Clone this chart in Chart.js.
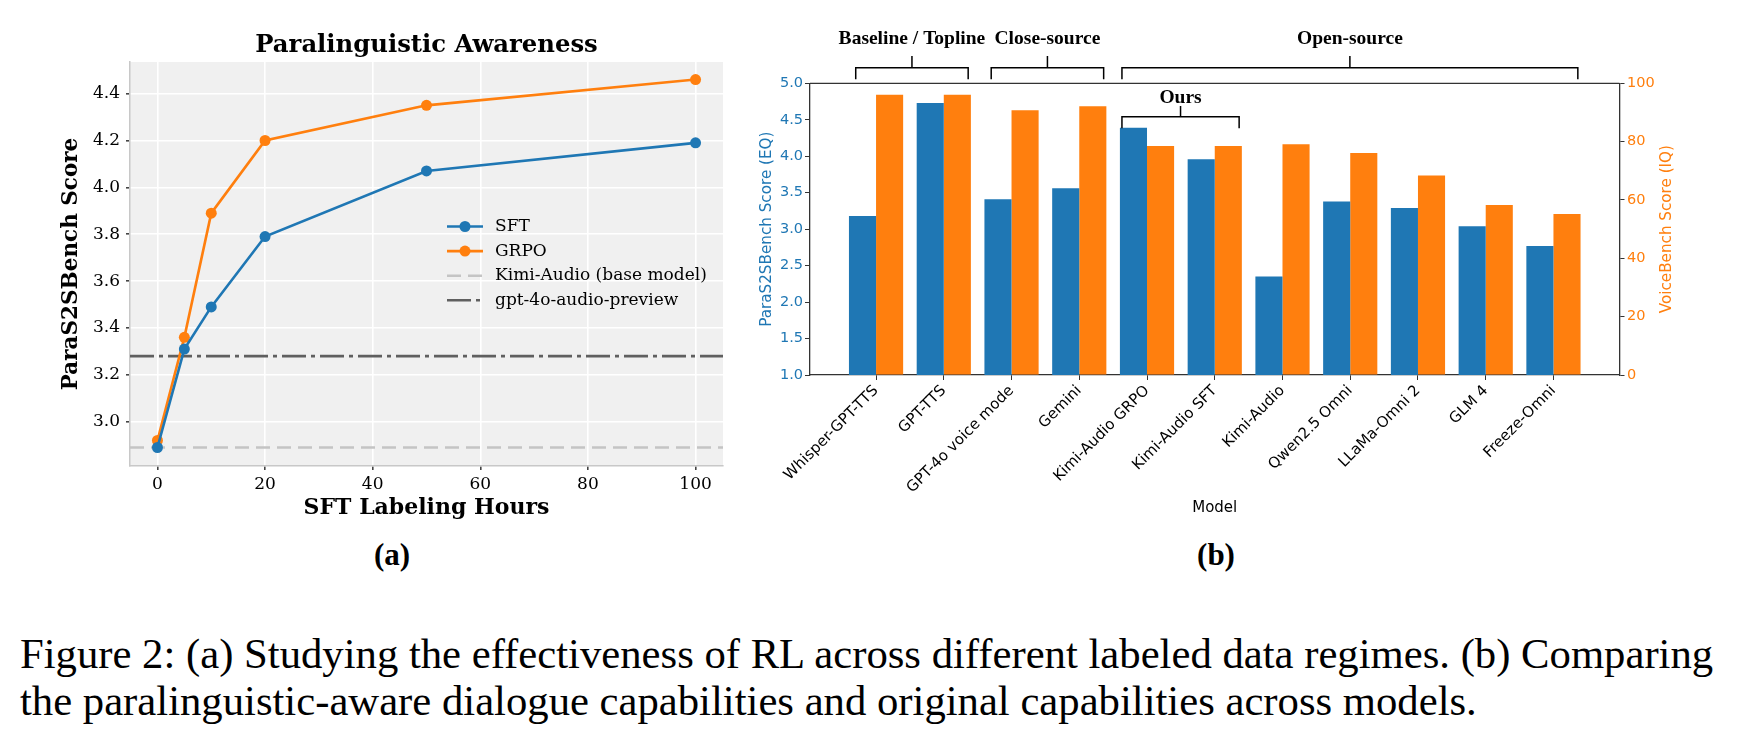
<!DOCTYPE html>
<html>
<head>
<meta charset="utf-8">
<script src="https://cdn.jsdelivr.net/npm/chart.js@4.4.1/dist/chart.umd.min.js"></script>
<style>
  body { margin: 0; background: #fff; width: 1746px; height: 738px; position: relative; overflow: hidden; }
  canvas { position: absolute; }
  #chartA { left: 0; top: 0; }
  #chartB { left: 680px; top: 0; }
  .panel { position: absolute; font-family: "Liberation Serif", serif; font-weight: bold; font-size: 31px; transform: translate(-50%, -50%); }
  #caption { position: absolute; left: 20px; top: 630px; font-family: "Liberation Serif", serif; font-size: 42.7px; line-height: 47px; white-space: nowrap; color: #000; }
</style>
</head>
<body>
<canvas id="chartA" width="740" height="530"></canvas>
<canvas id="chartB" width="1066" height="530"></canvas>
<div class="panel" style="left:392px; top:555px">(a)</div>
<div class="panel" style="left:1216px; top:555px">(b)</div>
<div id="caption">Figure 2: (a) Studying the effectiveness of RL across different labeled data regimes. (b) Comparing<br>the paralinguistic-aware dialogue capabilities and original capabilities across models.</div>
<script>
// ---- (a) Paralinguistic Awareness ----
const hours = [0, 5, 10, 20, 50, 100];
const sftScores = [2.89, 3.31, 3.49, 3.79, 4.07, 4.19];
const grpoScores = [2.92, 3.36, 3.89, 4.20, 4.35, 4.46];
const kimiBase = 2.89;
const gpt4oAudio = 3.28;

// ---- (b) EQ / IQ per model ----
const models = ["Whisper-GPT-TTS", "GPT-TTS", "GPT-4o voice mode", "Gemini", "Kimi-Audio GRPO",
  "Kimi-Audio SFT", "Kimi-Audio", "Qwen2.5 Omni", "LLaMa-Omni 2", "GLM 4", "Freeze-Omni"];
const eqScores = [3.18, 4.73, 3.41, 3.56, 4.39, 3.96, 2.35, 3.38, 3.29, 3.04, 2.77];
const iqScores = [96.1, 96.1, 90.8, 92.1, 78.5, 78.5, 79.1, 76.1, 68.4, 58.3, 55.2];
// group label, first model index, last model index
const groups = [["Baseline / Topline", 0, 1], ["Close-source", 2, 3], ["Open-source", 4, 10]];
const oursGroup = ["Ours", 4, 5];

const BLUE = '#1f77b4';
const ORANGE = '#ff7f0e';

// x range of panel (a), used to stretch the reference lines
const xMinA = -5.1, xMaxA = 105.1;

const serif = 'DejaVu Serif';
const sans = 'DejaVu Sans';

// grey plot background for panel (a)
const bgPlugin = {
  id: 'bg',
  beforeDraw(chart) {
    const {ctx, chartArea: a} = chart;
    ctx.save();
    ctx.fillStyle = '#f0f0f0';
    ctx.fillRect(a.left, a.top, a.right - a.left, a.bottom - a.top);
    ctx.restore();
  }
};

// title + legend for panel (a)
const decoAPlugin = {
  id: 'decoA',
  afterDraw(chart) {
    const {ctx, chartArea: a} = chart;
    ctx.save();
    ctx.fillStyle = '#000';
    ctx.textAlign = 'center';
    ctx.textBaseline = 'middle';
    ctx.font = 'bold 24.3px "' + serif + '"';
    ctx.fillText('Paralinguistic Awareness', (a.left + a.right) / 2, 46);

    // legend
    ctx.font = '17px "' + serif + '"';
    ctx.textAlign = 'left';
    chart.data.datasets.forEach((ds, i) => {
      const y = 226.5 + i * 24.6;
      ctx.strokeStyle = ds.borderColor;
      ctx.lineWidth = ds.borderWidth;
      ctx.setLineDash(ds.borderDash || []);
      ctx.beginPath();
      ctx.moveTo(447, y);
      ctx.lineTo(483, y);
      ctx.stroke();
      ctx.setLineDash([]);
      if (ds.pointRadius > 0) {
        ctx.fillStyle = ds.borderColor;
        ctx.beginPath();
        ctx.arc(465, y, ds.pointRadius, 0, Math.PI * 2);
        ctx.fill();
      }
      ctx.fillStyle = '#000';
      ctx.fillText(ds.label, 495, y);
    });
    ctx.restore();
  }
};

new Chart(document.getElementById('chartA'), {
  type: 'line',
  data: {
    datasets: [
      { label: 'SFT', data: hours.map((h, i) => ({x: h, y: sftScores[i]})),
        borderColor: BLUE, backgroundColor: BLUE, borderWidth: 2.6, pointRadius: 5.5, pointBorderWidth: 0 },
      { label: 'GRPO', data: hours.map((h, i) => ({x: h, y: grpoScores[i]})),
        borderColor: ORANGE, backgroundColor: ORANGE, borderWidth: 2.6, pointRadius: 5.5, pointBorderWidth: 0 },
      { label: 'Kimi-Audio (base model)', data: [{x: xMinA, y: kimiBase}, {x: xMaxA, y: kimiBase}],
        borderColor: '#c4c4c4', borderWidth: 2.6, borderDash: [14, 7], pointRadius: 0 },
      { label: 'gpt-4o-audio-preview', data: [{x: xMinA, y: gpt4oAudio}, {x: xMaxA, y: gpt4oAudio}],
        borderColor: '#5f5f5f', borderWidth: 2.6, borderDash: [24, 5, 4, 5], pointRadius: 0 }
    ]
  },
  options: {
    responsive: false,
    animation: false,
    layout: { padding: { left: 0, top: 62, right: 17, bottom: 0 } },
    plugins: { legend: { display: false }, tooltip: { enabled: false } },
    scales: {
      x: {
        type: 'linear', min: xMinA, max: xMaxA,
        afterFit: s => { s.height = 64; },
        ticks: { stepSize: 20, includeBounds: false, maxRotation: 0, padding: 4, color: '#000', font: { family: serif, size: 17 } },
        grid: { color: '#fff', lineWidth: 1.6, tickColor: '#444', tickLength: 4 },
        border: { display: true, color: '#c8c8c8', width: 1.5 },
        title: { display: true, text: 'SFT Labeling Hours', color: '#000',
          font: { family: serif, size: 22, weight: 'bold' }, padding: { top: 0, bottom: 9 } }
      },
      y: {
        min: 2.811, max: 4.535,
        afterFit: s => { s.width = 130; },
        ticks: { stepSize: 0.2, includeBounds: false, padding: 6, color: '#000',
          font: { family: serif, size: 17 }, callback: v => v.toFixed(1) },
        grid: { color: '#fff', lineWidth: 1.6, tickColor: '#444', tickLength: 4 },
        border: { display: true, color: '#c8c8c8', width: 1.5 },
        title: { display: true, text: 'ParaS2SBench Score', color: '#000',
          font: { family: serif, size: 21.5, weight: 'bold' }, padding: { top: 59, bottom: 0 } }
      }
    }
  },
  plugins: [bgPlugin, decoAPlugin]
});

// brackets, top spine and right axis title for panel (b)
const decoBPlugin = {
  id: 'decoB',
  afterDraw(chart) {
    const {ctx, chartArea: a, scales: {x}} = chart;
    ctx.save();
    // top spine
    ctx.strokeStyle = '#333';
    ctx.lineWidth = 1.3;
    ctx.beginPath();
    ctx.moveTo(a.left, a.top);
    ctx.lineTo(a.right, a.top);
    ctx.stroke();

    const bracket = (g, lineY, textY, stem, startPad) => {
      const x0 = x.getPixelForValue(g[1] - startPad);
      const x1 = x.getPixelForValue(g[2] + 0.36);
      const xm = (x0 + x1) / 2;
      ctx.strokeStyle = '#000';
      ctx.lineWidth = 1.5;
      ctx.beginPath();
      ctx.moveTo(x0, lineY + 11.6);
      ctx.lineTo(x0, lineY);
      ctx.lineTo(x1, lineY);
      ctx.lineTo(x1, lineY + 11.6);
      ctx.moveTo(xm, lineY);
      ctx.lineTo(xm, lineY - stem);
      ctx.stroke();
      ctx.fillStyle = '#000';
      ctx.font = 'bold 19.5px "Liberation Serif"';
      ctx.textAlign = 'center';
      ctx.textBaseline = 'alphabetic';
      ctx.fillText(g[0], xm, textY);
    };
    groups.forEach((g, i) => bracket(g, 67.7, 44, 11.7, i === 2 ? 0.37 : 0.3));
    bracket(oursGroup, 116.7, 102.7, 10.7, 0.37);

    // right axis title, reading bottom to top
    ctx.fillStyle = ORANGE;
    ctx.font = '15.2px "' + sans + '"';
    ctx.textAlign = 'center';
    ctx.textBaseline = 'middle';
    ctx.translate(a.right + 48, (a.top + a.bottom) / 2);
    ctx.rotate(-Math.PI / 2);
    ctx.fillText('VoiceBench Score (IQ)', 0, 0);
    ctx.restore();
  }
};

const tickGrid = { drawOnChartArea: false, offset: false, tickLength: 5, tickColor: '#333' };
const spine = { display: true, color: '#333', width: 1.3 };

new Chart(document.getElementById('chartB'), {
  type: 'bar',
  data: {
    datasets: [
      { label: 'ParaS2SBench', data: models.map((m, i) => ({x: i, y: eqScores[i]})),
        backgroundColor: BLUE, yAxisID: 'y' },
      { label: 'VoiceBench', data: models.map((m, i) => ({x: i, y: iqScores[i]})),
        backgroundColor: ORANGE, yAxisID: 'y1' }
    ]
  },
  options: {
    responsive: false,
    animation: false,
    categoryPercentage: 0.8,
    barPercentage: 1.0,
    layout: { padding: { left: 0, top: 83.3, right: 0, bottom: 0 } },
    plugins: { legend: { display: false }, tooltip: { enabled: false } },
    scales: {
      x: {
        type: 'linear', min: -0.975, max: 10.975, offset: false,
        afterFit: s => { s.height = 155; },
        ticks: { stepSize: 1, includeBounds: false, autoSkip: false, minRotation: 45, maxRotation: 45,
          padding: 2, color: '#000', font: { family: sans, size: 15 },
          callback: v => models[v] },
        grid: tickGrid,
        border: spine,
        title: { display: true, text: 'Model', color: '#000',
          font: { family: sans, size: 15 }, padding: { top: 0, bottom: 13 } }
      },
      y: {
        position: 'left', min: 1, max: 5,
        afterFit: s => { s.width = 130; },
        ticks: { stepSize: 0.5, padding: 2, color: BLUE, font: { family: sans, size: 14.5 },
          callback: v => v.toFixed(1) },
        grid: tickGrid,
        border: spine,
        title: { display: true, text: 'ParaS2SBench Score (EQ)', color: BLUE,
          font: { family: sans, size: 15.2 }, padding: { top: 77.5, bottom: 0 } }
      },
      y1: {
        position: 'right', min: 0, max: 100,
        afterFit: s => { s.width = 126.5; },
        ticks: { stepSize: 20, padding: 2.5, color: ORANGE, font: { family: sans, size: 14.5 } },
        grid: tickGrid,
        border: spine
      }
    }
  },
  plugins: [decoBPlugin]
});
</script>
</body>
</html>
